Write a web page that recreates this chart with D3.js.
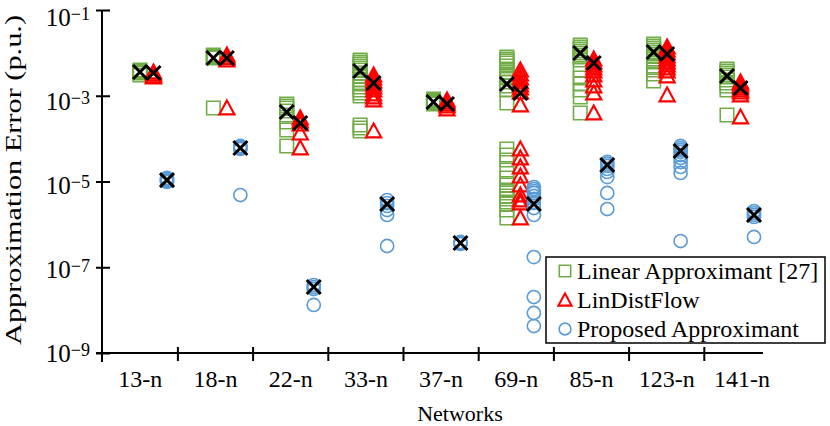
<!DOCTYPE html>
<html>
<head>
<meta charset="utf-8">
<script src="https://cdn.jsdelivr.net/npm/d3@7"></script>
<style>
  body { margin: 0; background: #fff; }
  text { font-family: "Liberation Serif", "Times New Roman", serif; fill: #000; }
</style>
</head>
<body>
<svg id="chart" width="830" height="426"></svg>
<script>
// values, one row per network
const networks = ["13-n", "18-n", "22-n", "33-n", "37-n", "69-n", "85-n", "123-n", "141-n"]

const linearApprox = [
  [3.99e-3, 3.78e-3, 3.58e-3, 3.4e-3, 3.05e-3],
  [8.9e-3, 8.45e-3, 8.0e-3, 7.6e-3, 5.18e-4],
  [6.42e-4, 5.77e-4, 5.18e-4, 4.41e-4, 3.56e-4, 2.44e-4, 1.59e-4, 6.73e-5],
  [6.8e-3, 6.1e-3, 5.5e-3, 4.94e-3, 4.44e-3, 3.99e-3, 3.4e-3, 2.89e-3, 2.33e-3, 1.88e-3, 1.6e-3, 1.36e-3, 1.16e-3, 9.9e-4, 2.08e-4, 1.77e-4, 1.51e-4],
  [8.4e-4, 7.96e-4, 7.55e-4, 7.15e-4, 6.78e-4, 6.42e-4],
  [8.0e-3, 7.2e-3, 6.5e-3, 5.8e-3, 4.94e-3, 4.2e-3, 3.58e-3, 3.05e-3, 2.6e-3, 2.09e-3, 1.69e-3, 1.36e-3, 6.78e-4,
   5.73e-5, 4.15e-5, 3.17e-5, 1.85e-5, 1.21e-5, 8.29e-6, 6.33e-6, 5.4e-6, 4.59e-6, 3.91e-6, 3.33e-6, 2.99e-6, 2.16e-6, 1.41e-6],
  [1.53e-2, 1.37e-2, 1.23e-2, 1.11e-2, 9.9e-3, 8.9e-3, 8.0e-3, 6.8e-3, 3.99e-3, 2.6e-3, 1.88e-3, 1.36e-3, 9.35e-4, 3.96e-4],
  [1.61e-2, 1.45e-2, 1.3e-2, 1.17e-2, 1.05e-2, 9.4e-3, 8.45e-3, 7.2e-3, 6.1e-3, 4.94e-3, 3.99e-3, 3.22e-3, 2.21e-3],
  [4.2e-3, 3.78e-3, 3.4e-3, 3.05e-3, 2.74e-3, 2.33e-3, 1.98e-3, 1.69e-3, 1.36e-3, 3.56e-4]
]

const linDistFlow = [
  [3.58e-3, 3.22e-3, 2.89e-3, 2.74e-3],
  [8.9e-3, 8.0e-3, 7.6e-3, 6.8e-3, 5.18e-4],
  [3.03e-4, 2.58e-4, 2.19e-4, 1.35e-4, 6.04e-5],
  [3.05e-3, 2.6e-3, 2.21e-3, 1.88e-3, 1.6e-3, 1.36e-3, 1.1e-3, 9.35e-4, 7.96e-4, 1.51e-4],
  [7.96e-4, 7.15e-4, 6.42e-4, 5.77e-4, 4.91e-4],
  [3.99e-3, 3.22e-3, 2.6e-3, 2.09e-3, 1.78e-3, 1.52e-3, 1.22e-3, 6.09e-4,
   5.73e-5, 3.53e-5, 2.18e-5, 1.34e-5, 8.29e-6, 4.84e-6, 3.7e-6, 3.15e-6, 1.41e-6],
  [7.2e-3, 6.1e-3, 5.2e-3, 4.44e-3, 3.78e-3, 3.05e-3, 2.33e-3, 1.69e-3, 1.16e-3, 3.96e-4],
  [1.37e-2, 1.17e-2, 9.9e-3, 8.45e-3, 7.2e-3, 6.1e-3, 5.2e-3, 4.44e-3, 3.78e-3, 2.89e-3, 1.04e-3],
  [2.09e-3, 1.88e-3, 1.69e-3, 1.52e-3, 1.36e-3, 1.22e-3, 1.04e-3, 3.19e-4]
]

const proposed = [
  [1.21e-5, 1.14e-5, 1.08e-5, 1.03e-5, 9.74e-6],
  [6.73e-5, 6.38e-5, 6.04e-5, 5.73e-5, 4.84e-6],
  [3.85e-8, 3.46e-8, 3.11e-8, 1.32e-8],
  [3.7e-6, 3.15e-6, 2.69e-6, 2.16e-6, 1.66e-6, 3.13e-7],
  [3.88e-7, 3.68e-7, 3.49e-7],
  [7.44e-6, 6.68e-6, 6.0e-6, 5.4e-6, 4.59e-6, 3.91e-6, 3.15e-6, 2.41e-6, 1.66e-6, 1.73e-7, 2.02e-8, 8.57e-9, 4.26e-9],
  [2.85e-5, 2.56e-5, 2.3e-5, 1.96e-5, 1.67e-5, 1.27e-5, 5.4e-6, 2.28e-6],
  [6.73e-5, 6.04e-5, 5.43e-5, 4.88e-5, 4.15e-5, 3.53e-5, 2.85e-5, 2.18e-5, 1.58e-5, 4.09e-7],
  [2.05e-6, 1.84e-6, 1.66e-6, 1.49e-6, 5.08e-7]
]

// black crosses (averages)
const meanLinear = [3.58e-3, 7.6e-3, 4.18e-4, 3.78e-3, 7.15e-4, 1.88e-3, 9.9e-3, 1.05e-2, 2.89e-3]
const meanLinDist = [3.4e-3, 7.6e-3, 2.31e-4, 1.98e-3, 6.42e-4, 1.16e-3, 5.8e-3, 9.4e-3, 1.52e-3]
const meanProposed = [1.08e-5, 6.04e-5, 3.46e-8, 2.99e-6, 3.68e-7, 2.99e-6, 2.42e-5, 5.15e-5, 1.66e-6]

const yTicks = [1e-1, 1e-3, 1e-5, 1e-7, 1e-9]
const legendLabels = ["Linear Approximant [27]", "LinDistFlow", "Proposed Approximant"]

const colors = {linear: "#70ad47", lindist: "#ff0000", proposed: "#5b9bd5"}

const svg = d3.select("#chart")

const y = d3.scaleLog().domain([1e-9, 1e-1]).range([353, 10])
const xBand = d3.scaleBand().domain(networks).range([102.7, 779.5])
const xPt = d3.scaleLinear().domain([0, networks.length - 1]).range([140, 727])
// tick labels sit on a slightly tighter spacing than the ticks themselves
const yLabel = d3.scaleLinear().domain([0, yTicks.length - 1]).range([16, 352])

const series = [
  {key: "linear", values: linearApprox, means: meanLinear, dx: 0},
  {key: "lindist", values: linDistFlow, means: meanLinDist, dx: 13.5},
  {key: "proposed", values: proposed, means: meanProposed, dx: 27}
]

const trianglePath = "M0,-7.5L7.6,6.4L-7.6,6.4Z"
const markerPath = {
  linear: d3.symbol(d3.symbolSquare, 182)(),
  lindist: trianglePath,
  proposed: d3.symbol(d3.symbolCircle, 136)()
}
const strokeW = {linear: 1.6, lindist: 2.1, proposed: 1.6}

// axes
const yAxis = d3.axisLeft(y).tickValues(yTicks).tickSizeInner(-8).tickSizeOuter(0).tickFormat("")
const gy = svg.append("g").attr("transform", "translate(102,0)").call(yAxis)
gy.select(".domain").remove()
gy.selectAll(".tick line").attr("x1", -6).attr("stroke", "#000").attr("stroke-width", 2)

gy.selectAll(".tick").each(function(d, i) {
  const exp = Math.round(Math.log10(d))
  const t = d3.select(this).append("text")
    .attr("x", -12).attr("y", yLabel(i) - y(d) + 9)
    .attr("text-anchor", "end")
    .style("font-size", "25px")
  t.append("tspan").text("10")
  t.append("tspan").attr("dy", -5.5).style("font-size", "18px").text("\u2212" + Math.abs(exp))
})

svg.append("line").attr("x1", 102).attr("x2", 102).attr("y1", 10).attr("y2", 362)
  .attr("stroke", "#000").attr("stroke-width", 2)
svg.append("line").attr("x1", 96).attr("x2", 763).attr("y1", 353).attr("y2", 353)
  .attr("stroke", "#000").attr("stroke-width", 2)

const xAxis = d3.axisBottom(xBand).tickSize(0).tickPadding(0)
const gx = svg.append("g").attr("transform", "translate(0,353)").call(xAxis)
gx.select(".domain").remove()
gx.selectAll(".tick text")
  .attr("y", 34).attr("dy", null)
  .style("font-size", "24px")
  .style("font-family", '"Liberation Serif", "Times New Roman", serif')

svg.append("g").selectAll("line")
  .data(networks.slice(1))
  .join("line")
  .attr("x1", (d) => xBand(d)).attr("x2", (d) => xBand(d))
  .attr("y1", 347).attr("y2", 361)
  .attr("stroke", "#000").attr("stroke-width", 2)

svg.append("text")
  .attr("x", 460).attr("y", 421)
  .attr("text-anchor", "middle")
  .style("font-size", "22px")
  .text("Networks")

svg.append("text")
  .attr("transform", "translate(21,180) rotate(-90)")
  .attr("text-anchor", "middle")
  .attr("textLength", 330)
  .attr("lengthAdjust", "spacingAndGlyphs")
  .style("font-size", "24px")
  .text("Approximation Error (p.u.)")

// markers
series.forEach((s) => {
  const pts = s.values.flatMap((vals, i) => vals.map((v) => ({i, v})))
  svg.append("g").attr("class", `marks-${s.key}`)
    .selectAll("path")
    .data(pts)
    .join("path")
    .attr("d", markerPath[s.key])
    .attr("transform", (d) => `translate(${xPt(d.i) + s.dx},${y(d.v)})`)
    .attr("fill", "none")
    .attr("stroke", colors[s.key])
    .attr("stroke-width", strokeW[s.key])
})

series.forEach((s) => {
  svg.append("g").attr("class", `means-${s.key}`)
    .selectAll("path")
    .data(s.means)
    .join("path")
    .attr("d", "M-7,-7L7,7M-7,7L7,-7")
    .attr("transform", (d, i) => `translate(${xPt(i) + s.dx},${y(d)})`)
    .attr("fill", "none")
    .attr("stroke", "#000")
    .attr("stroke-width", 3)
})

// legend
const legend = svg.append("g").attr("transform", "translate(546,257)")
legend.append("rect")
  .attr("width", 279).attr("height", 86)
  .attr("fill", "#fff").attr("stroke", "#000").attr("stroke-width", 1.5)

const legendMarker = {
  linear: d3.symbol(d3.symbolSquare, 130)(),
  lindist: "M0,-6.5L6.6,5.6L-6.6,5.6Z",
  proposed: d3.symbol(d3.symbolCircle, 110)()
}
const entry = legend.selectAll(".entry")
  .data(series)
  .join("g")
  .attr("class", "entry")
  .attr("transform", (d, i) => `translate(0,${14 + i * 29})`)
entry.append("path")
  .attr("d", (d) => legendMarker[d.key])
  .attr("transform", "translate(19,0)")
  .attr("fill", "none")
  .attr("stroke", (d) => colors[d.key])
  .attr("stroke-width", (d) => strokeW[d.key])
entry.append("text")
  .attr("x", 31).attr("y", 8)
  .style("font-size", "24px")
  .text((d, i) => legendLabels[i])
</script>
</body>
</html>
